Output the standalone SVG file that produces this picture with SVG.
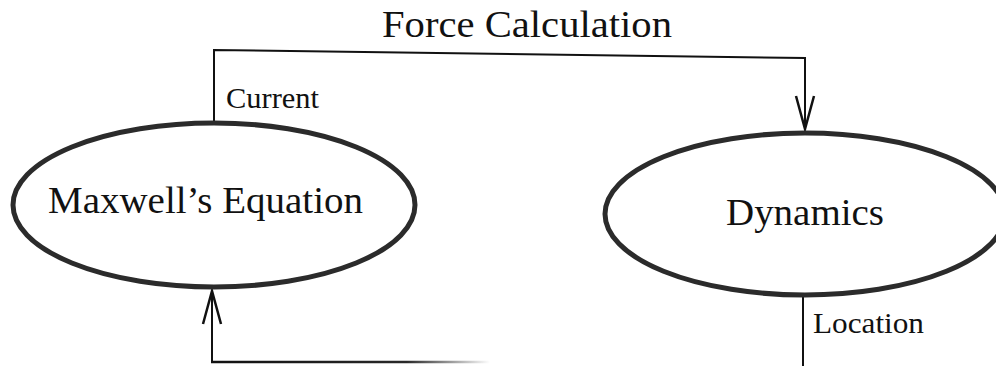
<svg xmlns="http://www.w3.org/2000/svg" width="996" height="366" viewBox="0 0 996 366">
  <style>
    .node ellipse { fill: #ffffff; stroke: #2b2b2b; stroke-width: 5; }
    .big { font-family: "Liberation Serif", "Times New Roman", serif; font-size: 38px; fill: #111; }
    .small { font-family: "Liberation Serif", "Times New Roman", serif; font-size: 30px; fill: #111; }
    .conn { fill: none; stroke: #111; stroke-width: 2; }
  </style>
  <defs>
    <marker id="vhead" markerUnits="userSpaceOnUse" markerWidth="40" markerHeight="24" viewBox="-34 -12 36 24" refX="0" refY="0" orient="auto">
      <path d="M-33,-9 L0,0 L-33,9" fill="none" stroke="#111" stroke-width="2.5"/>
    </marker>
    <linearGradient id="fade" x1="212" y1="0" x2="490" y2="0" gradientUnits="userSpaceOnUse">
      <stop offset="0" stop-color="#111" stop-opacity="1"/>
      <stop offset="0.7" stop-color="#111" stop-opacity="0.9"/>
      <stop offset="1" stop-color="#111" stop-opacity="0"/>
    </linearGradient>
  </defs>
  <rect width="996" height="366" fill="#ffffff"/>

  <g id="connectors">
    <path class="conn" d="M214,121 L214,50 L805,58 L805,129" marker-end="url(#vhead)"/>
    <path class="conn" d="M212,362 L212,291" marker-end="url(#vhead)"/>
    <line x1="211" y1="362" x2="490" y2="362" stroke="url(#fade)" stroke-width="2.5"/>
    <path class="conn" d="M803,297 L803,366"/>
    <text class="big" x="382" y="37" textLength="290" lengthAdjust="spacingAndGlyphs">Force Calculation</text>
    <text class="small" x="226" y="108" textLength="93" lengthAdjust="spacingAndGlyphs">Current</text>
    <text class="small" x="813" y="333" textLength="111" lengthAdjust="spacingAndGlyphs">Location</text>
  </g>

  <g id="maxwell" class="node">
    <ellipse cx="214" cy="205" rx="201" ry="82"/>
    <text class="big" x="48" y="213" textLength="315" lengthAdjust="spacingAndGlyphs">Maxwell’s Equation</text>
  </g>

  <g id="dynamics" class="node">
    <ellipse cx="805" cy="214" rx="200" ry="81"/>
    <text class="big" x="726" y="225" textLength="158" lengthAdjust="spacingAndGlyphs">Dynamics</text>
  </g>
</svg>
